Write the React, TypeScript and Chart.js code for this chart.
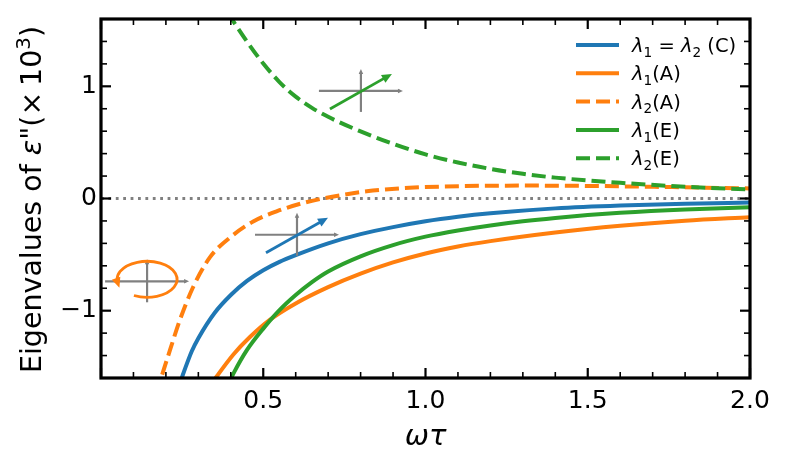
import { useEffect, useRef } from 'react';
import { Chart, registerables } from 'chart.js';

Chart.register(...registerables);

const FONT = "'DejaVu Sans', sans-serif";

// eigenvalues of eps'' (x10^3) against omega*tau
const cOmega = [0.23, 0.25, 0.28, 0.3, 0.35, 0.4, 0.45, 0.5, 0.55, 0.6, 0.7, 0.8, 0.9, 1.0, 1.1, 1.2, 1.4, 1.6, 1.8, 2.0];
const cLambda = [-1.76, -1.59, -1.36, -1.245, -1.02, -0.86, -0.735, -0.64, -0.565, -0.505, -0.4, -0.318, -0.255, -0.203, -0.163, -0.132, -0.088, -0.062, -0.046, -0.036];

const a1Omega = [0.34, 0.357, 0.408, 0.459, 0.521, 0.6, 0.7, 0.8, 0.9, 1.0, 1.1, 1.2, 1.4, 1.6, 1.8, 2.0];
const a1Lambda = [-1.655, -1.584, -1.39, -1.235, -1.08, -0.935, -0.79, -0.67, -0.57, -0.49, -0.428, -0.38, -0.303, -0.243, -0.198, -0.166];

const a2Omega = [0.17, 0.187, 0.213, 0.243, 0.284, 0.336, 0.398, 0.469, 0.541, 0.623, 0.675, 0.75, 0.819, 0.95, 1.106, 1.3, 1.5, 1.75, 2.0];
const a2Lambda = [-1.74, -1.584, -1.348, -1.083, -0.789, -0.523, -0.347, -0.205, -0.115, -0.04, -0.005, 0.035, 0.064, 0.095, 0.11, 0.115, 0.112, 0.102, 0.09];

const e1Omega = [0.39, 0.41, 0.45, 0.5, 0.55, 0.6, 0.65, 0.7, 0.8, 0.9, 1.0, 1.1, 1.2, 1.3, 1.4, 1.5, 1.6, 1.8, 2.0];
const e1Lambda = [-1.67, -1.55, -1.35, -1.16, -0.995, -0.86, -0.745, -0.65, -0.515, -0.415, -0.34, -0.285, -0.24, -0.203, -0.173, -0.148, -0.128, -0.099, -0.079];

const e2Omega = [0.39, 0.41, 0.45, 0.5, 0.55, 0.6, 0.65, 0.7, 0.8, 0.9, 1.0, 1.1, 1.2, 1.3, 1.4, 1.6, 1.8, 2.0];
const e2Lambda = [1.66, 1.57, 1.398, 1.203, 1.038, 0.908, 0.808, 0.728, 0.598, 0.488, 0.393, 0.321, 0.264, 0.22, 0.186, 0.14, 0.105, 0.08];

const xTicks = [0.5, 1.0, 1.5, 2.0];
const yTicks = [-1, 0, 1];

const BLUE = '#1f77b4';
const ORANGE = '#ff7f0e';
const GREEN = '#2ca02c';
const GREY = '#808080';
const DASH = [14, 6];

type Seg = { t: string; it?: boolean; sub?: boolean; sup?: boolean };

const legendLabels: Seg[][] = [
  [{ t: 'λ', it: true }, { t: '1', sub: true }, { t: ' = ' }, { t: 'λ', it: true }, { t: '2', sub: true }, { t: ' (C)' }],
  [{ t: 'λ', it: true }, { t: '1', sub: true }, { t: '(A)' }],
  [{ t: 'λ', it: true }, { t: '2', sub: true }, { t: '(A)' }],
  [{ t: 'λ', it: true }, { t: '1', sub: true }, { t: '(E)' }],
  [{ t: 'λ', it: true }, { t: '2', sub: true }, { t: '(E)' }],
];

const yTitle: Seg[] = [
  { t: 'Eigenvalues of ' }, { t: 'ε', it: true }, { t: '"(×\u200910' }, { t: '3', sup: true }, { t: ')' },
];

const series = [
  { xs: cOmega, ys: cLambda, color: BLUE, dash: [] as number[] },
  { xs: a1Omega, ys: a1Lambda, color: ORANGE, dash: [] as number[] },
  { xs: a2Omega, ys: a2Lambda, color: ORANGE, dash: DASH },
  { xs: e1Omega, ys: e1Lambda, color: GREEN, dash: [] as number[] },
  { xs: e2Omega, ys: e2Lambda, color: GREEN, dash: DASH },
];

// small sketches: centre in data units, sizes in px
const sketches = [
  { x: 0.142, y: -0.738, kind: 'spin', color: ORANGE },
  { x: 0.604, y: -0.323, kind: 'arrow', color: BLUE },
  { x: 0.801, y: 0.959, kind: 'arrow', color: GREEN },
];

function segWidth(ctx: CanvasRenderingContext2D, segs: Seg[], size: number) {
  let w = 0;
  for (const s of segs) {
    const fs = s.sub || s.sup ? size * 0.7 : size;
    ctx.font = `${s.it ? 'italic ' : ''}${fs}px ${FONT}`;
    w += ctx.measureText(s.t).width;
  }
  return w;
}

function drawSegs(ctx: CanvasRenderingContext2D, segs: Seg[], x: number, y: number, size: number) {
  let cx = x;
  for (const s of segs) {
    const fs = s.sub || s.sup ? size * 0.7 : size;
    ctx.font = `${s.it ? 'italic ' : ''}${fs}px ${FONT}`;
    const dy = s.sub ? size * 0.24 : s.sup ? -size * 0.4 : 0;
    ctx.fillText(s.t, cx, y + dy);
    cx += ctx.measureText(s.t).width;
  }
}

function arrow(ctx: CanvasRenderingContext2D, x0: number, y0: number, x1: number, y1: number, head: number) {
  const ang = Math.atan2(y1 - y0, x1 - x0);
  ctx.beginPath();
  ctx.moveTo(x0, y0);
  ctx.lineTo(x1 - Math.cos(ang) * head * 0.6, y1 - Math.sin(ang) * head * 0.6);
  ctx.stroke();
  ctx.beginPath();
  ctx.moveTo(x1, y1);
  ctx.lineTo(x1 - head * Math.cos(ang) + head * 0.45 * Math.sin(ang), y1 - head * Math.sin(ang) - head * 0.45 * Math.cos(ang));
  ctx.lineTo(x1 - head * Math.cos(ang) - head * 0.45 * Math.sin(ang), y1 - head * Math.sin(ang) + head * 0.45 * Math.cos(ang));
  ctx.closePath();
  ctx.fill();
}

const sketchPlugin = {
  id: 'sketches',
  afterDatasetsDraw(chart: any) {
    const { ctx, scales } = chart;
    ctx.save();
    for (const s of sketches) {
      const cx = scales.x.getPixelForValue(s.x);
      const cy = scales.y.getPixelForValue(s.y);
      ctx.strokeStyle = GREY;
      ctx.fillStyle = GREY;
      ctx.lineWidth = 2.2;
      arrow(ctx, cx - 42, cy, cx + 42, cy, 5);
      arrow(ctx, cx, cy + 21, cx, cy - 22, 5);
      ctx.strokeStyle = s.color;
      ctx.fillStyle = s.color;
      ctx.lineWidth = 2.8;
      if (s.kind === 'arrow') {
        arrow(ctx, cx - 31, cy + 18, cx + 31, cy - 17, 10);
      } else {
        const rx = 30, ry = 18;
        const a0 = (116 * Math.PI) / 180;
        const a1 = (-192 * Math.PI) / 180;
        ctx.beginPath();
        ctx.ellipse(cx, cy - 2, rx, ry, 0, a0, a1 + 0.15, true);
        ctx.stroke();
        const ex = cx + rx * Math.cos(a1);
        const ey = cy - 2 + ry * Math.sin(a1);
        const tx = rx * Math.sin(a1);
        const ty = -ry * Math.cos(a1);
        const n = Math.hypot(tx, ty);
        arrow(ctx, ex - (tx / n) * 4, ey - (ty / n) * 4, ex + (tx / n) * 5, ey + (ty / n) * 5, 10);
      }
    }
    ctx.restore();
  },
};

const framePlugin = {
  id: 'frame',
  afterDraw(chart: any) {
    const { ctx, chartArea: a, scales } = chart;
    ctx.save();
    ctx.strokeStyle = '#000';
    const seg = (x0: number, y0: number, x1: number, y1: number) => {
      ctx.beginPath();
      ctx.moveTo(x0, y0);
      ctx.lineTo(x1, y1);
      ctx.stroke();
    };
    for (let i = 0; i <= 20; i++) {
      const major = i % 5 === 0;
      const len = major ? 10 : 6;
      ctx.lineWidth = major ? 2.2 : 1.6;
      const px = scales.x.getPixelForValue(i / 10);
      seg(px, a.bottom, px, a.bottom - len);
      seg(px, a.top, px, a.top + len);
    }
    for (let i = -8; i <= 8; i++) {
      const major = i % 5 === 0;
      const len = major ? 10 : 6;
      ctx.lineWidth = major ? 2.2 : 1.6;
      const py = scales.y.getPixelForValue(i * 0.2);
      seg(a.left, py, a.left + len, py);
      seg(a.right, py, a.right - len, py);
    }
    ctx.lineWidth = 3.2;
    ctx.strokeRect(a.left, a.top, a.right - a.left, a.bottom - a.top);

    // legend
    ctx.lineWidth = 4;
    ctx.fillStyle = '#000';
    ctx.textBaseline = 'alphabetic';
    series.forEach((s, i) => {
      const y = a.top + 26 + i * 28.3;
      ctx.strokeStyle = s.color;
      ctx.setLineDash(s.dash);
      seg(a.right - 174, y, a.right - 131, y);
      ctx.setLineDash([]);
      drawSegs(ctx, legendLabels[i], a.right - 118, y + 7, 19.5);
    });

    // axis titles
    ctx.font = `italic 29px ${FONT}`;
    ctx.textAlign = 'center';
    ctx.fillText('ωτ', (a.left + a.right) / 2, 445);
    ctx.textAlign = 'left';
    ctx.translate(41, (a.top + a.bottom) / 2 + 1);
    ctx.rotate(-Math.PI / 2);
    const w = segWidth(ctx, yTitle, 28.5);
    drawSegs(ctx, yTitle, -w / 2, 0, 28.5);
    ctx.restore();
  },
};

export default function App() {
  const canvasRef = useRef<HTMLCanvasElement | null>(null);

  useEffect(() => {
    document.body.style.margin = '0';
    if (!canvasRef.current) return;

    const datasets: any[] = series
      .map((s) => ({
        data: s.xs.map((x, i) => ({ x, y: s.ys[i] })),
        borderColor: s.color,
        borderWidth: 4,
        borderDash: s.dash,
        cubicInterpolationMode: 'monotone',
        clip: 0,
      }))
      .reverse();
    datasets.push({
      data: [{ x: 0, y: 0 }, { x: 2, y: 0 }],
      borderColor: GREY,
      borderWidth: 2.8,
      borderDash: [2.8, 4.6],
      clip: 0,
    });

    const tickFont = { family: FONT, size: 25 };
    const chart = new Chart(canvasRef.current, {
      type: 'line',
      data: { datasets },
      options: {
        animation: false,
        responsive: false,
        events: [],
        layout: { padding: { top: 16, right: 39, left: 0, bottom: 0 } },
        elements: { point: { radius: 0 } },
        plugins: { legend: { display: false }, tooltip: { enabled: false } },
        scales: {
          x: {
            type: 'linear',
            min: 0,
            max: 2,
            grid: { display: false, drawTicks: false },
            border: { display: false },
            afterBuildTicks: (s: any) => {
              s.ticks = xTicks.map((value) => ({ value }));
            },
            afterFit: (s: any) => {
              s.height = 84;
            },
            ticks: {
              color: '#000',
              font: tickFont,
              padding: 8,
              maxRotation: 0,
              autoSkip: false,
              callback: (v: any) => Number(v).toFixed(1),
            },
          },
          y: {
            type: 'linear',
            min: -1.6,
            max: 1.6,
            grid: { display: false, drawTicks: false },
            border: { display: false },
            afterBuildTicks: (s: any) => {
              s.ticks = yTicks.map((value) => ({ value }));
            },
            afterFit: (s: any) => {
              s.width = 101;
            },
            ticks: {
              color: '#000',
              font: tickFont,
              padding: 4,
              autoSkip: false,
              callback: (v: any) => (Number(v) < 0 ? '\u2212' + Math.abs(Number(v)) : String(v)),
            },
          },
        },
      },
      plugins: [sketchPlugin, framePlugin],
    });

    return () => {
      chart.destroy();
    };
  }, []);

  return (
    <div style={{ width: 789, height: 462, background: '#fff' }}>
      <canvas ref={canvasRef} width={789} height={462} />
    </div>
  );
}
